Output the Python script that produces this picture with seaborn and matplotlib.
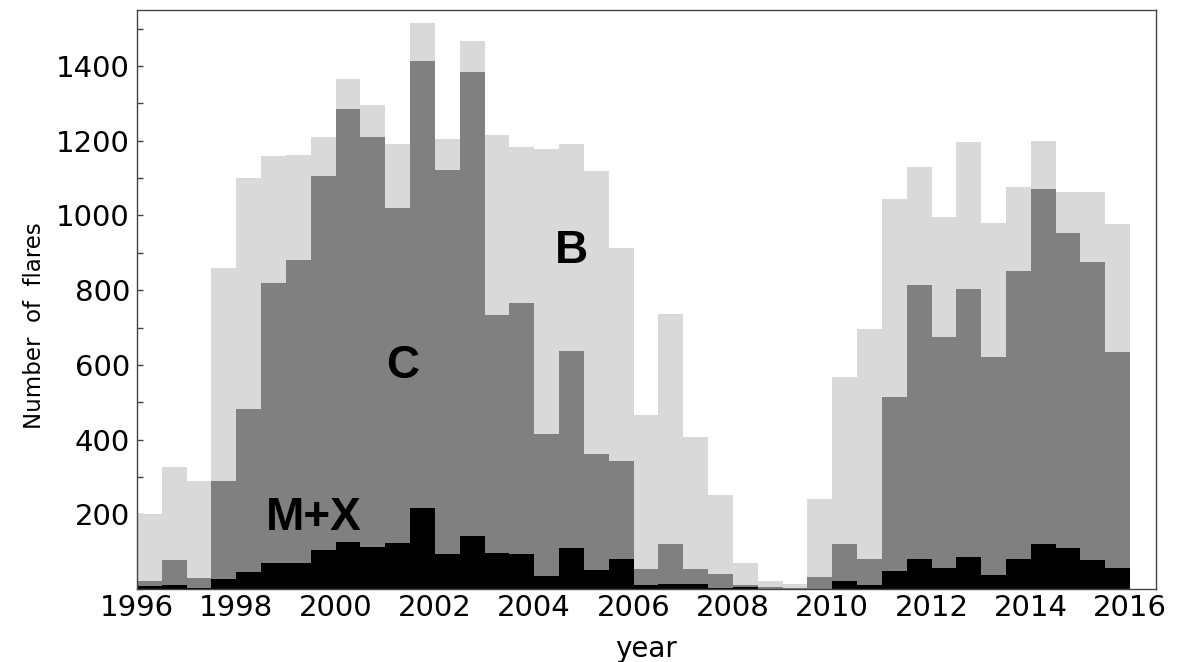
import numpy as np
import pandas as pd
import matplotlib
matplotlib.use("Agg")
import matplotlib.pyplot as plt
from matplotlib.ticker import MultipleLocator, FixedLocator
import seaborn as sns

# Half-year bins, 1996.0 .. 2016.0
half_year_start = np.arange(1996.0, 2016.0, 0.5)

# Flare counts per half-year, by GOES class
b_class = [202, 327, 290, 859, 1100, 1160, 1162, 1211, 1365, 1295,
           1190, 1516, 1205, 1466, 1215, 1184, 1178, 1191, 1120, 912,
           467, 737, 408, 251, 71, 22, 13, 240, 569, 697,
           1043, 1130, 997, 1196, 981, 1075, 1199, 1064, 1062, 977]
c_class = [22, 77, 31, 289, 482, 819, 880, 1106, 1285, 1211,
           1019, 1414, 1122, 1385, 734, 766, 415, 637, 363, 344,
           54, 122, 55, 40, 11, 6, 2, 33, 121, 80,
           513, 813, 674, 804, 621, 852, 1071, 953, 875, 636]
mx_class = [8, 11, 3, 26, 47, 71, 69, 105, 125, 114,
            123, 216, 93, 142, 96, 93, 34, 111, 51, 80,
            10, 15, 15, 2, 5, 1, 0, 0, 22, 10,
            48, 80, 56, 86, 39, 80, 121, 111, 78, 57]

year_ticks = list(range(1996, 2017, 2))
count_ticks = list(range(200, 1401, 200))

sns.set_style("white")
plt.rcParams["font.family"] = ["DejaVu Sans"]
plt.rcParams["text.color"] = "black"
plt.rcParams["axes.labelcolor"] = "black"

fig = plt.figure(figsize=(11.85, 6.62), dpi=100)
ax = fig.add_axes([0.1156, 0.110, 0.8599, 0.875])

frame = pd.DataFrame({"period": half_year_start + 0.25,
                      "B": b_class, "C": c_class, "MX": mx_class})
layers = [("B", "#d9d9d9"), ("C", "#808080"), ("MX", "#000000")]
for col_name, col in layers:
    sns.histplot(data=frame, x="period", weights=col_name,
                 binwidth=0.5, binrange=(1996.0, 2016.0),
                 color=col, alpha=1.0, element="bars", linewidth=0, ax=ax)

ax.set_xlim(1996.0, 2016.52)
ax.set_ylim(0, 1550)

ax.xaxis.set_major_locator(FixedLocator(year_ticks))
ax.set_xticklabels([str(y) for y in year_ticks])
ax.yaxis.set_major_locator(FixedLocator(count_ticks))
ax.set_yticklabels([str(v) for v in count_ticks])
ax.yaxis.set_minor_locator(MultipleLocator(100))

ax.tick_params(axis="x", which="both", length=0, pad=3.5, labelsize=21,
               labelcolor="black")
ax.tick_params(axis="y", which="both", direction="in", length=4, width=1,
               color="#444444", pad=5, labelsize=21, left=True,
               labelcolor="black")

for side in ["left", "right", "top", "bottom"]:
    ax.spines[side].set_visible(True)
    ax.spines[side].set_color("#444444")
    ax.spines[side].set_linewidth(1.0)

ax.set_xlabel("year", fontsize=20, labelpad=9, color="black")
ax.set_ylabel("Number  of  flares", fontsize=16.5, color="black")
ax.yaxis.set_label_coords(-0.089, 0.455)

label_font = dict(fontsize=33, fontweight="bold", family="Liberation Sans",
                  ha="center", va="center", color="black")
ax.text(2004.74, 905, "B", **label_font)
ax.text(2001.34, 598, "C", **label_font)
ax.text(1999.56, 190, "M+X", **label_font)

fig.savefig("out.png", dpi=100)
